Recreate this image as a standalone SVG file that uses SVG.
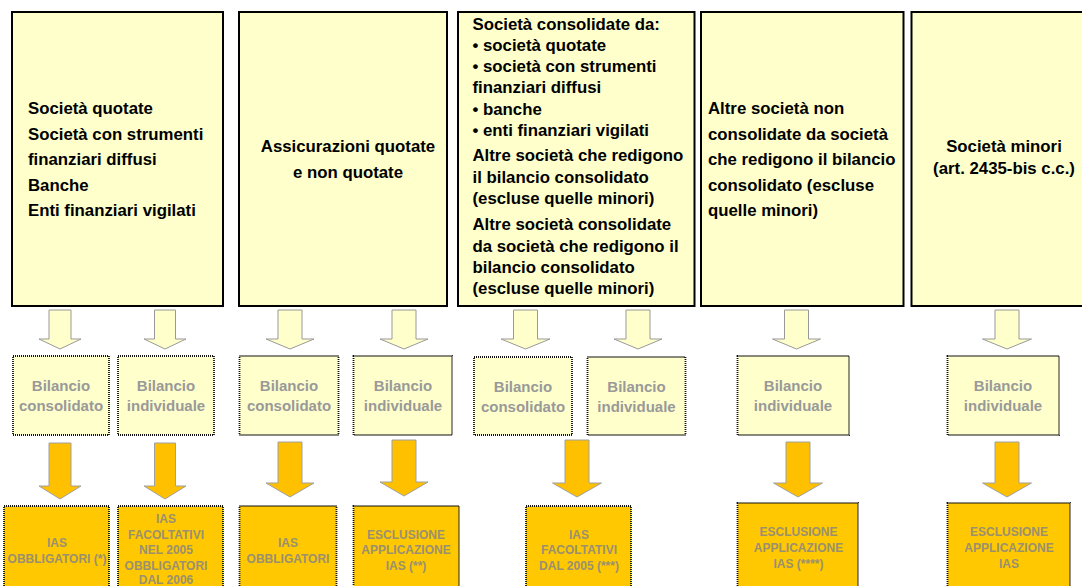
<svg xmlns="http://www.w3.org/2000/svg" width="1082" height="586" viewBox="0 0 1082 586">
<style>
text{font-family:"Liberation Sans",Arial,sans-serif;font-weight:bold}
.top{fill:#FFFFCC;stroke:#000;stroke-width:2}
.tt{font-size:16.8px;fill:#000}
.mid{fill:#FFFFCC;stroke:#111;stroke-width:1.8;stroke-dasharray:1 1}
.mt{font-size:15px;fill:#999;text-anchor:middle}
.gold{fill:#FFC800;stroke:#111;stroke-width:1.8;stroke-dasharray:1 1}
.gt{font-size:12px;fill:#9A9070;text-anchor:middle}
.la{fill:#FFFFCC;stroke:#999;stroke-width:1}
.ga{fill:#FFC000;stroke:#A0A0A0;stroke-width:1}
</style>
<rect width="1082" height="586" fill="#fff"/>

<g id="box1">
<rect class="top" x="12" y="12" width="211" height="294"/>
<text class="tt" x="28" y="114">Società quotate</text>
<text class="tt" x="28" y="140">Società con strumenti</text>
<text class="tt" x="28" y="165">finanziari diffusi</text>
<text class="tt" x="28" y="191">Banche</text>
<text class="tt" x="28" y="216">Enti finanziari vigilati</text>
</g>
<g id="box2">
<rect class="top" x="239" y="12" width="208" height="294"/>
<text class="tt" x="348" y="152" text-anchor="middle">Assicurazioni quotate</text>
<text class="tt" x="348" y="178" text-anchor="middle">e non quotate</text>
</g>
<g id="box3">
<rect class="top" x="458" y="12" width="236.5" height="294"/>
<text class="tt" x="472.5" y="29.5">Società consolidate da:</text>
<text class="tt" x="472.5" y="50.5">• società quotate</text>
<text class="tt" x="472.5" y="71.5">• società con strumenti</text>
<text class="tt" x="472.5" y="93">finanziari diffusi</text>
<text class="tt" x="472.5" y="114.5">• banche</text>
<text class="tt" x="472.5" y="135.5">• enti finanziari vigilati</text>
<text class="tt" x="472.5" y="161">Altre società che redigono</text>
<text class="tt" x="472.5" y="182.5">il bilancio consolidato</text>
<text class="tt" x="472.5" y="203.5">(escluse quelle minori)</text>
<text class="tt" x="472.5" y="230">Altre società consolidate</text>
<text class="tt" x="472.5" y="251.5">da società che redigono il</text>
<text class="tt" x="472.5" y="272.5">bilancio consolidato</text>
<text class="tt" x="472.5" y="293.5">(escluse quelle minori)</text>
</g>
<g id="box4">
<rect class="top" x="701" y="12" width="202.5" height="294"/>
<text class="tt" x="708" y="114">Altre società non</text>
<text class="tt" x="708" y="140">consolidate da società</text>
<text class="tt" x="708" y="165">che redigono il bilancio</text>
<text class="tt" x="708" y="191">consolidato (escluse</text>
<text class="tt" x="708" y="216">quelle minori)</text>
</g>
<g id="box5">
<rect class="top" x="911.5" y="12" width="190" height="294"/>
<text class="tt" x="1004" y="152" text-anchor="middle">Società minori</text>
<text class="tt" x="1004" y="174" text-anchor="middle">(art. 2435-bis c.c.)</text>
</g>

<g id="connectors">
<path class="la" d="M49,310H71V339H81L60,349L39,339H49Z"/>
<path class="la" d="M154.5,310H175.5V339H186L165,349L144,339H154.5Z"/>
<path class="la" d="M278,310H302V339H314L290,349L266,339H278Z"/>
<path class="la" d="M392,310H416V339H428L404,349L380,339H392Z"/>
<path class="la" d="M513.5,310H537.5V339H550L525.5,349L501,339H513.5Z"/>
<path class="la" d="M626,310H650V339H662L638,349L614,339H626Z"/>
<path class="la" d="M784.5,310H808.5V339H820.5L796.5,349L772.5,339H784.5Z"/>
<path class="la" d="M995,310H1019V339H1031.5L1007,349L982.5,339H995Z"/>

<path class="ga" d="M49,443H71V486H81L60,499L39,486H49Z"/>
<path class="ga" d="M154.5,443H175.5V486H186L165,499L144,486H154.5Z"/>
<path class="ga" d="M278,442H302V483H314L290,497L266,483H278Z"/>
<path class="ga" d="M392,440H416V482H428L404,496L380,482H392Z"/>
<path class="ga" d="M565,440H589V483H601.5L577,497L552.5,483H565Z"/>
<path class="ga" d="M786,442H810V483H822.5L798,497L773.5,483H786Z"/>
<path class="ga" d="M995,442H1019V483H1031.5L1007,497L982.5,483H995Z"/>
</g>

<g id="mid-a"><rect class="mid" x="13" y="356" width="96" height="79"/>
<text class="mt" x="61" y="391">Bilancio</text><text class="mt" x="61" y="411">consolidato</text></g>
<g id="mid-b"><rect class="mid" x="118" y="356" width="96" height="79"/>
<text class="mt" x="166" y="391">Bilancio</text><text class="mt" x="166" y="411">individuale</text></g>
<g id="mid-c"><rect class="mid" x="239.5" y="356" width="99" height="79"/>
<text class="mt" x="289" y="391">Bilancio</text><text class="mt" x="289" y="411">consolidato</text></g>
<g id="mid-d"><rect class="mid" x="353.5" y="356" width="98.5" height="79"/>
<text class="mt" x="403" y="391">Bilancio</text><text class="mt" x="403" y="411">individuale</text></g>
<g id="mid-e"><rect class="mid" x="474" y="357" width="98" height="78"/>
<text class="mt" x="523" y="392">Bilancio</text><text class="mt" x="523" y="412">consolidato</text></g>
<g id="mid-f"><rect class="mid" x="587.5" y="357" width="98" height="78"/>
<text class="mt" x="636.5" y="392">Bilancio</text><text class="mt" x="636.5" y="412">individuale</text></g>
<g id="mid-g"><rect class="mid" x="737.5" y="356" width="111.5" height="79"/>
<text class="mt" x="793" y="391">Bilancio</text><text class="mt" x="793" y="411">individuale</text></g>
<g id="mid-h"><rect class="mid" x="947.5" y="356" width="111.5" height="79"/>
<text class="mt" x="1003" y="391">Bilancio</text><text class="mt" x="1003" y="411">individuale</text></g>

<g id="gold-a"><rect class="gold" x="4" y="506" width="105" height="90"/>
<text class="gt" x="57" y="546.5">IAS</text><text class="gt" x="57" y="562.5">OBBLIGATORI (*)</text></g>
<g id="gold-b"><rect class="gold" x="118" y="506" width="105" height="90"/>
<text class="gt" x="166" y="522.5">IAS</text><text class="gt" x="166" y="538.5">FACOLTATIVI</text><text class="gt" x="166" y="554">NEL 2005</text><text class="gt" x="166" y="570">OBBLIGATORI</text><text class="gt" x="166" y="584">DAL 2006</text></g>
<g id="gold-c"><rect class="gold" x="239.5" y="506" width="97" height="90"/>
<text class="gt" x="288" y="546.5">IAS</text><text class="gt" x="288" y="562.5">OBBLIGATORI</text></g>
<g id="gold-d"><rect class="gold" x="353.5" y="506" width="105.5" height="90"/>
<text class="gt" x="406" y="538.5">ESCLUSIONE</text><text class="gt" x="406" y="554">APPLICAZIONE</text><text class="gt" x="406" y="570">IAS (**)</text></g>
<g id="gold-e"><rect class="gold" x="526" y="506" width="105" height="90"/>
<text class="gt" x="579" y="538.5">IAS</text><text class="gt" x="579" y="554">FACOLTATIVI</text><text class="gt" x="579" y="569.5">DAL 2005 (***)</text></g>
<g id="gold-f"><rect class="gold" x="737.5" y="503" width="120.5" height="93"/>
<text class="gt" x="798.5" y="535.5">ESCLUSIONE</text><text class="gt" x="798.5" y="551.5">APPLICAZIONE</text><text class="gt" x="798.5" y="567.5">IAS (****)</text></g>
<g id="gold-g"><rect class="gold" x="947.5" y="503" width="122.5" height="93"/>
<text class="gt" x="1009" y="535.5">ESCLUSIONE</text><text class="gt" x="1009" y="551.5">APPLICAZIONE</text><text class="gt" x="1009" y="567.5">IAS</text></g>
</svg>
